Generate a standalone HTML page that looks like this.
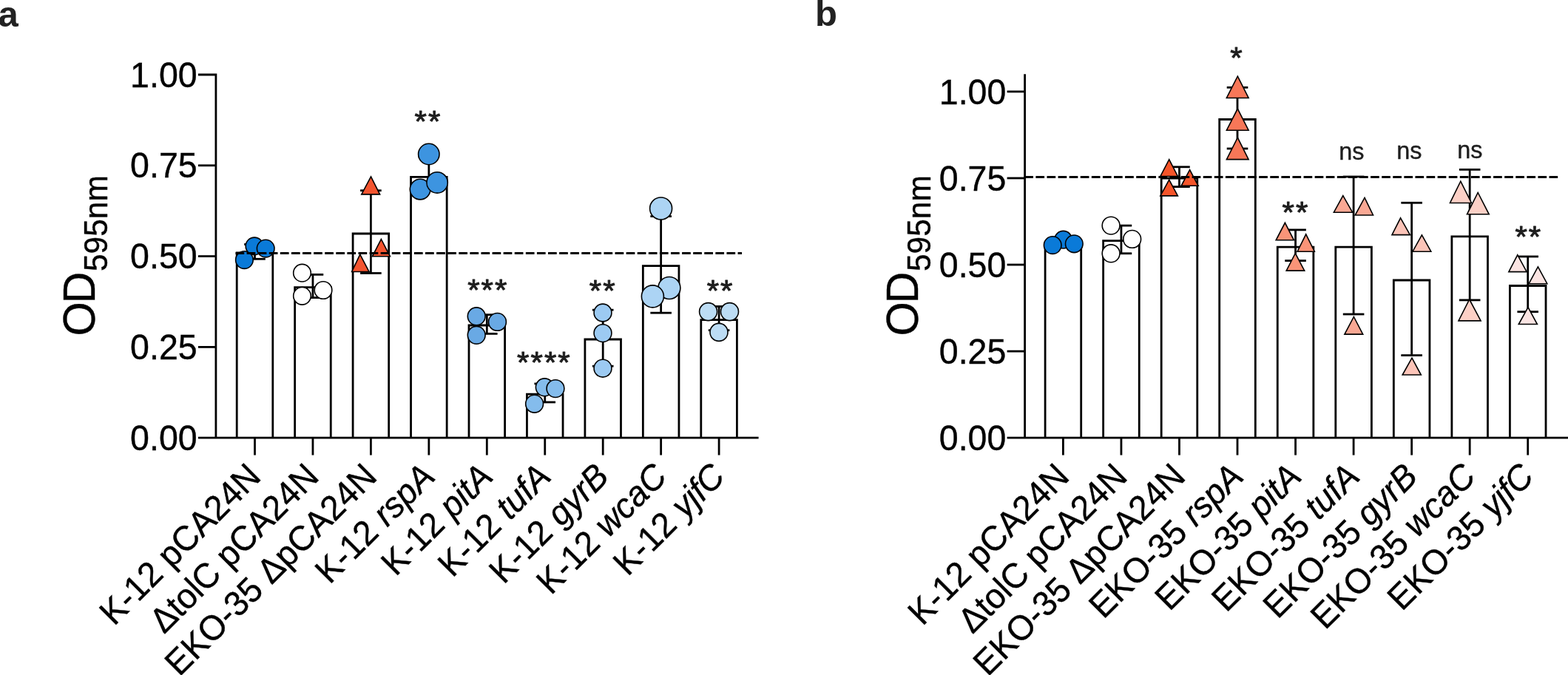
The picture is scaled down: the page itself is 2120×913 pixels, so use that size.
<!DOCTYPE html>
<html><head><meta charset="utf-8"><title>Figure</title>
<style>html,body{margin:0;padding:0;background:#fff;overflow:hidden}svg{display:block}</style>
</head><body>
<svg width="2120" height="913" viewBox="0 0 2120 913" font-family='"Liberation Sans", Arial, Helvetica, sans-serif'>
<rect width="2120" height="913" fill="#fff"/>
<text x="-2.5" y="36" font-size="49" font-weight="bold" fill="#222">a</text>
<text x="1102" y="35" font-size="49" font-weight="bold" fill="#222">b</text>
<g>
<path d="M320.20,592.20 V342.00 H368.80 V592.20" fill="none" stroke="#000" stroke-width="2.8" stroke-linejoin="miter"/>
<path d="M398.65,592.20 V388.60 H447.25 V592.20" fill="none" stroke="#000" stroke-width="2.8" stroke-linejoin="miter"/>
<path d="M477.10,592.20 V316.00 H525.70 V592.20" fill="none" stroke="#000" stroke-width="2.8" stroke-linejoin="miter"/>
<path d="M555.55,592.20 V239.30 H604.15 V592.20" fill="none" stroke="#000" stroke-width="2.8" stroke-linejoin="miter"/>
<path d="M634.00,592.20 V440.00 H682.60 V592.20" fill="none" stroke="#000" stroke-width="2.8" stroke-linejoin="miter"/>
<path d="M712.45,592.20 V533.20 H761.05 V592.20" fill="none" stroke="#000" stroke-width="2.8" stroke-linejoin="miter"/>
<path d="M790.90,592.20 V459.00 H839.50 V592.20" fill="none" stroke="#000" stroke-width="2.8" stroke-linejoin="miter"/>
<path d="M869.35,592.20 V359.60 H917.95 V592.20" fill="none" stroke="#000" stroke-width="2.8" stroke-linejoin="miter"/>
<path d="M947.80,592.20 V432.60 H996.40 V592.20" fill="none" stroke="#000" stroke-width="2.8" stroke-linejoin="miter"/>
<line x1="344.50" y1="330.50" x2="344.50" y2="350.30" stroke="#000" stroke-width="2.8" />
<line x1="330.20" y1="330.50" x2="358.80" y2="330.50" stroke="#000" stroke-width="2.8" />
<line x1="330.20" y1="350.30" x2="358.80" y2="350.30" stroke="#000" stroke-width="2.8" />
<line x1="422.95" y1="371.40" x2="422.95" y2="402.60" stroke="#000" stroke-width="2.8" />
<line x1="408.65" y1="371.40" x2="437.25" y2="371.40" stroke="#000" stroke-width="2.8" />
<line x1="408.65" y1="402.60" x2="437.25" y2="402.60" stroke="#000" stroke-width="2.8" />
<line x1="501.40" y1="257.70" x2="501.40" y2="369.50" stroke="#000" stroke-width="2.8" />
<line x1="487.10" y1="257.70" x2="515.70" y2="257.70" stroke="#000" stroke-width="2.8" />
<line x1="487.10" y1="369.50" x2="515.70" y2="369.50" stroke="#000" stroke-width="2.8" />
<line x1="579.85" y1="212.00" x2="579.85" y2="252.00" stroke="#000" stroke-width="2.8" />
<line x1="565.55" y1="212.00" x2="594.15" y2="212.00" stroke="#000" stroke-width="2.8" />
<line x1="565.55" y1="252.00" x2="594.15" y2="252.00" stroke="#000" stroke-width="2.8" />
<line x1="658.30" y1="425.70" x2="658.30" y2="451.40" stroke="#000" stroke-width="2.8" />
<line x1="644.00" y1="425.70" x2="672.60" y2="425.70" stroke="#000" stroke-width="2.8" />
<line x1="644.00" y1="451.40" x2="672.60" y2="451.40" stroke="#000" stroke-width="2.8" />
<line x1="736.75" y1="519.00" x2="736.75" y2="544.00" stroke="#000" stroke-width="2.8" />
<line x1="722.45" y1="519.00" x2="751.05" y2="519.00" stroke="#000" stroke-width="2.8" />
<line x1="722.45" y1="544.00" x2="751.05" y2="544.00" stroke="#000" stroke-width="2.8" />
<line x1="815.20" y1="419.20" x2="815.20" y2="495.20" stroke="#000" stroke-width="2.8" />
<line x1="800.90" y1="419.20" x2="829.50" y2="419.20" stroke="#000" stroke-width="2.8" />
<line x1="800.90" y1="495.20" x2="829.50" y2="495.20" stroke="#000" stroke-width="2.8" />
<line x1="893.65" y1="292.60" x2="893.65" y2="423.20" stroke="#000" stroke-width="2.8" />
<line x1="879.35" y1="292.60" x2="907.95" y2="292.60" stroke="#000" stroke-width="2.8" />
<line x1="879.35" y1="423.20" x2="907.95" y2="423.20" stroke="#000" stroke-width="2.8" />
<line x1="972.10" y1="414.50" x2="972.10" y2="446.70" stroke="#000" stroke-width="2.8" />
<line x1="957.80" y1="414.50" x2="986.40" y2="414.50" stroke="#000" stroke-width="2.8" />
<line x1="957.80" y1="446.70" x2="986.40" y2="446.70" stroke="#000" stroke-width="2.8" />
<circle cx="330.40" cy="351.60" r="11.80" fill="#0a7ad8" stroke="#000" stroke-width="1.6"/>
<circle cx="344.00" cy="332.90" r="11.80" fill="#0a7ad8" stroke="#000" stroke-width="1.6"/>
<circle cx="359.20" cy="336.10" r="11.80" fill="#0a7ad8" stroke="#000" stroke-width="1.6"/>
<circle cx="408.50" cy="369.20" r="11.80" fill="#fff" stroke="#000" stroke-width="1.6"/>
<circle cx="408.50" cy="400.30" r="11.80" fill="#fff" stroke="#000" stroke-width="1.6"/>
<circle cx="437.00" cy="392.50" r="11.80" fill="#fff" stroke="#000" stroke-width="1.6"/>
<polygon points="501.50,238.90 513.60,262.90 488.80,262.90" fill="#f35530" stroke="#000" stroke-width="1.6" stroke-linejoin="miter"/>
<polygon points="486.80,344.10 499.00,367.50 475.70,367.50" fill="#f35530" stroke="#000" stroke-width="1.6" stroke-linejoin="miter"/>
<polygon points="515.40,323.50 527.40,346.80 503.40,346.80" fill="#f35530" stroke="#000" stroke-width="1.6" stroke-linejoin="miter"/>
<circle cx="579.80" cy="208.50" r="14.20" fill="#3d94e0" stroke="#000" stroke-width="1.6"/>
<circle cx="568.10" cy="256.10" r="13.80" fill="#3d94e0" stroke="#000" stroke-width="1.6"/>
<circle cx="591.10" cy="246.90" r="14.20" fill="#3d94e0" stroke="#000" stroke-width="1.6"/>
<circle cx="644.20" cy="427.80" r="11.90" fill="#69a9e4" stroke="#000" stroke-width="1.6"/>
<circle cx="644.20" cy="453.30" r="11.90" fill="#69a9e4" stroke="#000" stroke-width="1.6"/>
<circle cx="672.50" cy="435.40" r="11.90" fill="#69a9e4" stroke="#000" stroke-width="1.6"/>
<circle cx="736.30" cy="523.80" r="11.90" fill="#84bcec" stroke="#000" stroke-width="1.6"/>
<circle cx="722.60" cy="546.20" r="11.90" fill="#84bcec" stroke="#000" stroke-width="1.6"/>
<circle cx="751.00" cy="525.60" r="11.90" fill="#84bcec" stroke="#000" stroke-width="1.6"/>
<circle cx="815.00" cy="423.00" r="11.90" fill="#9ccaf2" stroke="#000" stroke-width="1.6"/>
<circle cx="815.00" cy="450.60" r="11.90" fill="#9ccaf2" stroke="#000" stroke-width="1.6"/>
<circle cx="815.00" cy="498.20" r="11.90" fill="#9ccaf2" stroke="#000" stroke-width="1.6"/>
<circle cx="893.60" cy="282.00" r="15.00" fill="#acd4f4" stroke="#000" stroke-width="1.6"/>
<circle cx="904.90" cy="389.50" r="15.00" fill="#acd4f4" stroke="#000" stroke-width="1.6"/>
<circle cx="882.40" cy="400.90" r="15.00" fill="#acd4f4" stroke="#000" stroke-width="1.6"/>
<circle cx="957.60" cy="421.60" r="12.00" fill="#bcdcf4" stroke="#000" stroke-width="1.6"/>
<circle cx="986.50" cy="421.60" r="12.00" fill="#bcdcf4" stroke="#000" stroke-width="1.6"/>
<circle cx="972.00" cy="449.40" r="12.00" fill="#bcdcf4" stroke="#000" stroke-width="1.6"/>
<line x1="318.5" y1="342.5" x2="1003.0" y2="342.5" stroke="#000" stroke-width="2.8" stroke-dasharray="11.7 3.39"/>
<path d="M267.90,592.20 H1025.60 M267.90,101.00 H291.90 V592.20" fill="none" stroke="#000" stroke-width="2.8" stroke-linejoin="miter"/>
<text transform="translate(266.60,117.60) scale(1,1.05)" font-size="46.5" text-anchor="end" stroke="#000" stroke-width="0.4">1.00</text>
<line x1="267.90" y1="223.80" x2="291.90" y2="223.80" stroke="#000" stroke-width="2.8" />
<text transform="translate(266.60,240.40) scale(1,1.05)" font-size="46.5" text-anchor="end" stroke="#000" stroke-width="0.4">0.75</text>
<line x1="267.90" y1="346.60" x2="291.90" y2="346.60" stroke="#000" stroke-width="2.8" />
<text transform="translate(266.60,363.20) scale(1,1.05)" font-size="46.5" text-anchor="end" stroke="#000" stroke-width="0.4">0.50</text>
<line x1="267.90" y1="469.40" x2="291.90" y2="469.40" stroke="#000" stroke-width="2.8" />
<text transform="translate(266.60,486.00) scale(1,1.05)" font-size="46.5" text-anchor="end" stroke="#000" stroke-width="0.4">0.25</text>
<text transform="translate(266.60,608.80) scale(1,1.05)" font-size="46.5" text-anchor="end" stroke="#000" stroke-width="0.4">0.00</text>
<line x1="344.50" y1="592.20" x2="344.50" y2="615.60" stroke="#000" stroke-width="2.8" />
<line x1="422.95" y1="592.20" x2="422.95" y2="615.60" stroke="#000" stroke-width="2.8" />
<line x1="501.40" y1="592.20" x2="501.40" y2="615.60" stroke="#000" stroke-width="2.8" />
<line x1="579.85" y1="592.20" x2="579.85" y2="615.60" stroke="#000" stroke-width="2.8" />
<line x1="658.30" y1="592.20" x2="658.30" y2="615.60" stroke="#000" stroke-width="2.8" />
<line x1="736.75" y1="592.20" x2="736.75" y2="615.60" stroke="#000" stroke-width="2.8" />
<line x1="815.20" y1="592.20" x2="815.20" y2="615.60" stroke="#000" stroke-width="2.8" />
<line x1="893.65" y1="592.20" x2="893.65" y2="615.60" stroke="#000" stroke-width="2.8" />
<line x1="972.10" y1="592.20" x2="972.10" y2="615.60" stroke="#000" stroke-width="2.8" />
<text transform="translate(560.50,178.35) scale(1,0.95)" font-size="42" letter-spacing="2.06" fill="#1e1e1e" stroke="#1e1e1e" stroke-width="1.0" stroke-linejoin="round">**</text>
<text transform="translate(632.15,406.40) scale(1,0.95)" font-size="42" letter-spacing="2.06" fill="#1e1e1e" stroke="#1e1e1e" stroke-width="1.0" stroke-linejoin="round">***</text>
<text transform="translate(699.10,503.95) scale(1,0.95)" font-size="42" letter-spacing="2.06" fill="#1e1e1e" stroke="#1e1e1e" stroke-width="1.0" stroke-linejoin="round">****</text>
<text transform="translate(796.75,406.50) scale(1,0.95)" font-size="42" letter-spacing="2.06" fill="#1e1e1e" stroke="#1e1e1e" stroke-width="1.0" stroke-linejoin="round">**</text>
<text transform="translate(955.65,406.90) scale(1,0.95)" font-size="42" letter-spacing="2.06" fill="#1e1e1e" stroke="#1e1e1e" stroke-width="1.0" stroke-linejoin="round">**</text>
<text transform="translate(355.00,647.00) rotate(-45) scale(1,1.03)" font-size="46" text-anchor="end" stroke="#000" stroke-width="0.4">K-12 pCA24N</text>
<text transform="translate(433.45,647.00) rotate(-45) scale(1,1.03)" font-size="46" text-anchor="end" stroke="#000" stroke-width="0.4">ΔtolC pCA24N</text>
<text transform="translate(511.90,647.00) rotate(-45) scale(1,1.03)" font-size="46" text-anchor="end" stroke="#000" stroke-width="0.4">EKO-35 ΔpCA24N</text>
<text transform="translate(590.35,647.00) rotate(-45) scale(1,1.03)" font-size="46" text-anchor="end" stroke="#000" stroke-width="0.4">K-12 <tspan font-style="italic">rspA</tspan></text>
<text transform="translate(668.80,647.00) rotate(-45) scale(1,1.03)" font-size="46" text-anchor="end" stroke="#000" stroke-width="0.4">K-12 <tspan font-style="italic">pitA</tspan></text>
<text transform="translate(747.25,647.00) rotate(-45) scale(1,1.03)" font-size="46" text-anchor="end" stroke="#000" stroke-width="0.4">K-12 <tspan font-style="italic">tufA</tspan></text>
<text transform="translate(825.70,647.00) rotate(-45) scale(1,1.03)" font-size="46" text-anchor="end" stroke="#000" stroke-width="0.4">K-12 <tspan font-style="italic">gyrB</tspan></text>
<text transform="translate(904.15,647.00) rotate(-45) scale(1,1.03)" font-size="46" text-anchor="end" stroke="#000" stroke-width="0.4">K-12 <tspan font-style="italic">wcaC</tspan></text>
<text transform="translate(982.60,647.00) rotate(-45) scale(1,1.03)" font-size="46" text-anchor="end" stroke="#000" stroke-width="0.4">K-12 <tspan font-style="italic">yjfC</tspan></text>
<text transform="translate(128.20,454.4) rotate(-90) scale(1,1.035)" font-size="59.5" stroke="#000" stroke-width="0.4">O<tspan dx="-2.4">D</tspan><tspan font-size="42.5" dx="0.5" dy="16.33">595nm</tspan></text>
</g>
<g>
<path d="M1413.10,592.20 V329.00 H1461.70 V592.20" fill="none" stroke="#000" stroke-width="2.8" stroke-linejoin="miter"/>
<path d="M1491.64,592.20 V325.60 H1540.24 V592.20" fill="none" stroke="#000" stroke-width="2.8" stroke-linejoin="miter"/>
<path d="M1570.18,592.20 V241.20 H1618.78 V592.20" fill="none" stroke="#000" stroke-width="2.8" stroke-linejoin="miter"/>
<path d="M1648.72,592.20 V161.50 H1697.32 V592.20" fill="none" stroke="#000" stroke-width="2.8" stroke-linejoin="miter"/>
<path d="M1727.26,592.20 V334.20 H1775.86 V592.20" fill="none" stroke="#000" stroke-width="2.8" stroke-linejoin="miter"/>
<path d="M1805.80,592.20 V334.20 H1854.40 V592.20" fill="none" stroke="#000" stroke-width="2.8" stroke-linejoin="miter"/>
<path d="M1884.34,592.20 V379.00 H1932.94 V592.20" fill="none" stroke="#000" stroke-width="2.8" stroke-linejoin="miter"/>
<path d="M1962.88,592.20 V319.80 H2011.48 V592.20" fill="none" stroke="#000" stroke-width="2.8" stroke-linejoin="miter"/>
<path d="M2041.42,592.20 V386.50 H2090.02 V592.20" fill="none" stroke="#000" stroke-width="2.8" stroke-linejoin="miter"/>
<line x1="1437.40" y1="323.20" x2="1437.40" y2="332.60" stroke="#000" stroke-width="2.8" />
<line x1="1423.10" y1="323.20" x2="1451.70" y2="323.20" stroke="#000" stroke-width="2.8" />
<line x1="1423.10" y1="332.60" x2="1451.70" y2="332.60" stroke="#000" stroke-width="2.8" />
<line x1="1515.94" y1="305.10" x2="1515.94" y2="342.80" stroke="#000" stroke-width="2.8" />
<line x1="1501.64" y1="305.10" x2="1530.24" y2="305.10" stroke="#000" stroke-width="2.8" />
<line x1="1501.64" y1="342.80" x2="1530.24" y2="342.80" stroke="#000" stroke-width="2.8" />
<line x1="1594.48" y1="225.80" x2="1594.48" y2="252.60" stroke="#000" stroke-width="2.8" />
<line x1="1580.18" y1="225.80" x2="1608.78" y2="225.80" stroke="#000" stroke-width="2.8" />
<line x1="1580.18" y1="252.60" x2="1608.78" y2="252.60" stroke="#000" stroke-width="2.8" />
<line x1="1673.02" y1="118.30" x2="1673.02" y2="201.00" stroke="#000" stroke-width="2.8" />
<line x1="1658.72" y1="118.30" x2="1687.32" y2="118.30" stroke="#000" stroke-width="2.8" />
<line x1="1658.72" y1="201.00" x2="1687.32" y2="201.00" stroke="#000" stroke-width="2.8" />
<line x1="1751.56" y1="310.90" x2="1751.56" y2="352.60" stroke="#000" stroke-width="2.8" />
<line x1="1737.26" y1="310.90" x2="1765.86" y2="310.90" stroke="#000" stroke-width="2.8" />
<line x1="1737.26" y1="352.60" x2="1765.86" y2="352.60" stroke="#000" stroke-width="2.8" />
<line x1="1830.10" y1="239.00" x2="1830.10" y2="425.00" stroke="#000" stroke-width="2.8" />
<line x1="1815.80" y1="239.00" x2="1844.40" y2="239.00" stroke="#000" stroke-width="2.8" />
<line x1="1815.80" y1="425.00" x2="1844.40" y2="425.00" stroke="#000" stroke-width="2.8" />
<line x1="1908.64" y1="274.30" x2="1908.64" y2="480.60" stroke="#000" stroke-width="2.8" />
<line x1="1894.34" y1="274.30" x2="1922.94" y2="274.30" stroke="#000" stroke-width="2.8" />
<line x1="1894.34" y1="480.60" x2="1922.94" y2="480.60" stroke="#000" stroke-width="2.8" />
<line x1="1987.18" y1="229.40" x2="1987.18" y2="405.90" stroke="#000" stroke-width="2.8" />
<line x1="1972.88" y1="229.40" x2="2001.48" y2="229.40" stroke="#000" stroke-width="2.8" />
<line x1="1972.88" y1="405.90" x2="2001.48" y2="405.90" stroke="#000" stroke-width="2.8" />
<line x1="2065.72" y1="347.00" x2="2065.72" y2="421.70" stroke="#000" stroke-width="2.8" />
<line x1="2051.42" y1="347.00" x2="2080.02" y2="347.00" stroke="#000" stroke-width="2.8" />
<line x1="2051.42" y1="421.70" x2="2080.02" y2="421.70" stroke="#000" stroke-width="2.8" />
<circle cx="1437.60" cy="324.20" r="11.80" fill="#0a7ad8" stroke="#000" stroke-width="1.6"/>
<circle cx="1423.20" cy="331.60" r="11.80" fill="#0a7ad8" stroke="#000" stroke-width="1.6"/>
<circle cx="1452.30" cy="329.80" r="11.80" fill="#0a7ad8" stroke="#000" stroke-width="1.6"/>
<circle cx="1502.10" cy="305.10" r="11.90" fill="#fff" stroke="#000" stroke-width="1.6"/>
<circle cx="1502.10" cy="342.80" r="11.90" fill="#fff" stroke="#000" stroke-width="1.6"/>
<circle cx="1530.70" cy="323.40" r="11.90" fill="#fff" stroke="#000" stroke-width="1.6"/>
<polygon points="1580.70,215.70 1592.40,238.50 1568.90,238.50" fill="#f5552a" stroke="#000" stroke-width="1.6" stroke-linejoin="miter"/>
<polygon points="1580.70,243.20 1592.40,264.90 1568.90,264.90" fill="#f5552a" stroke="#000" stroke-width="1.6" stroke-linejoin="miter"/>
<polygon points="1608.60,229.60 1620.10,251.30 1597.10,251.30" fill="#f5552a" stroke="#000" stroke-width="1.6" stroke-linejoin="miter"/>
<polygon points="1673.30,103.20 1688.10,132.50 1658.40,132.50" fill="#f77758" stroke="#000" stroke-width="1.6" stroke-linejoin="miter"/>
<polygon points="1673.30,147.10 1688.10,176.20 1658.40,176.20" fill="#f77758" stroke="#000" stroke-width="1.6" stroke-linejoin="miter"/>
<polygon points="1673.30,186.20 1688.10,215.60 1658.40,215.60" fill="#f77758" stroke="#000" stroke-width="1.6" stroke-linejoin="miter"/>
<polygon points="1737.40,301.30 1749.40,324.80 1725.20,324.80" fill="#fa9478" stroke="#000" stroke-width="1.6" stroke-linejoin="miter"/>
<polygon points="1765.70,316.80 1777.30,340.20 1754.10,340.20" fill="#fa9478" stroke="#000" stroke-width="1.6" stroke-linejoin="miter"/>
<polygon points="1751.30,342.70 1763.70,366.10 1739.20,366.10" fill="#fa9478" stroke="#000" stroke-width="1.6" stroke-linejoin="miter"/>
<polygon points="1815.80,264.60 1828.60,287.20 1803.40,287.20" fill="#f9a894" stroke="#000" stroke-width="1.6" stroke-linejoin="miter"/>
<polygon points="1845.00,267.40 1856.50,291.00 1832.20,291.00" fill="#f9a894" stroke="#000" stroke-width="1.6" stroke-linejoin="miter"/>
<polygon points="1830.40,428.50 1842.70,452.10 1817.90,452.10" fill="#f9a894" stroke="#000" stroke-width="1.6" stroke-linejoin="miter"/>
<polygon points="1893.60,294.80 1906.40,317.60 1882.00,317.60" fill="#fcc4b8" stroke="#000" stroke-width="1.6" stroke-linejoin="miter"/>
<polygon points="1922.40,317.80 1934.80,340.20 1910.00,340.20" fill="#fcc4b8" stroke="#000" stroke-width="1.6" stroke-linejoin="miter"/>
<polygon points="1909.00,484.20 1921.30,507.00 1896.20,507.00" fill="#fcc4b8" stroke="#000" stroke-width="1.6" stroke-linejoin="miter"/>
<polygon points="1974.80,245.20 1989.50,274.50 1960.50,274.50" fill="#fcd0c6" stroke="#000" stroke-width="1.6" stroke-linejoin="miter"/>
<polygon points="1998.20,260.50 2013.20,289.80 1983.50,289.80" fill="#fcd0c6" stroke="#000" stroke-width="1.6" stroke-linejoin="miter"/>
<polygon points="1986.70,405.00 2002.10,433.90 1972.00,433.90" fill="#fcd0c6" stroke="#000" stroke-width="1.6" stroke-linejoin="miter"/>
<polygon points="2051.80,344.80 2064.20,367.60 2039.90,367.60" fill="#fbe4e2" stroke="#000" stroke-width="1.6" stroke-linejoin="miter"/>
<polygon points="2079.40,360.90 2091.80,383.70 2067.10,383.70" fill="#fbe4e2" stroke="#000" stroke-width="1.6" stroke-linejoin="miter"/>
<polygon points="2066.00,415.70 2078.40,438.50 2053.30,438.50" fill="#fbe4e2" stroke="#000" stroke-width="1.6" stroke-linejoin="miter"/>
<line x1="1385.3" y1="239.5" x2="2106.2" y2="239.5" stroke="#000" stroke-width="2.8" stroke-dasharray="11.7 3.39"/>
<path d="M1361.60,592.20 H2120.00 M1385.60,100.30 V592.20" fill="none" stroke="#000" stroke-width="2.8"/>
<line x1="1361.60" y1="123.90" x2="1385.60" y2="123.90" stroke="#000" stroke-width="2.8" />
<text transform="translate(1360.30,140.50) scale(1,1.05)" font-size="46.5" text-anchor="end" stroke="#000" stroke-width="0.4">1.00</text>
<line x1="1361.60" y1="240.98" x2="1385.60" y2="240.98" stroke="#000" stroke-width="2.8" />
<text transform="translate(1360.30,257.58) scale(1,1.05)" font-size="46.5" text-anchor="end" stroke="#000" stroke-width="0.4">0.75</text>
<line x1="1361.60" y1="358.05" x2="1385.60" y2="358.05" stroke="#000" stroke-width="2.8" />
<text transform="translate(1360.30,374.65) scale(1,1.05)" font-size="46.5" text-anchor="end" stroke="#000" stroke-width="0.4">0.50</text>
<line x1="1361.60" y1="475.12" x2="1385.60" y2="475.12" stroke="#000" stroke-width="2.8" />
<text transform="translate(1360.30,491.73) scale(1,1.05)" font-size="46.5" text-anchor="end" stroke="#000" stroke-width="0.4">0.25</text>
<text transform="translate(1360.30,608.80) scale(1,1.05)" font-size="46.5" text-anchor="end" stroke="#000" stroke-width="0.4">0.00</text>
<line x1="1437.40" y1="592.20" x2="1437.40" y2="615.60" stroke="#000" stroke-width="2.8" />
<line x1="1515.94" y1="592.20" x2="1515.94" y2="615.60" stroke="#000" stroke-width="2.8" />
<line x1="1594.48" y1="592.20" x2="1594.48" y2="615.60" stroke="#000" stroke-width="2.8" />
<line x1="1673.02" y1="592.20" x2="1673.02" y2="615.60" stroke="#000" stroke-width="2.8" />
<line x1="1751.56" y1="592.20" x2="1751.56" y2="615.60" stroke="#000" stroke-width="2.8" />
<line x1="1830.10" y1="592.20" x2="1830.10" y2="615.60" stroke="#000" stroke-width="2.8" />
<line x1="1908.64" y1="592.20" x2="1908.64" y2="615.60" stroke="#000" stroke-width="2.8" />
<line x1="1987.18" y1="592.20" x2="1987.18" y2="615.60" stroke="#000" stroke-width="2.8" />
<line x1="2065.72" y1="592.20" x2="2065.72" y2="615.60" stroke="#000" stroke-width="2.8" />
<text transform="translate(1663.35,91.85) scale(1,0.95)" font-size="42" letter-spacing="2.06" fill="#1e1e1e" stroke="#1e1e1e" stroke-width="1.0" stroke-linejoin="round">*</text>
<text transform="translate(1733.55,300.70) scale(1,0.95)" font-size="42" letter-spacing="2.06" fill="#1e1e1e" stroke="#1e1e1e" stroke-width="1.0" stroke-linejoin="round">**</text>
<text x="1810.20" y="215.60" font-size="32.4" fill="#1e1e1e" stroke="#1e1e1e" stroke-width="0.4">ns</text>
<text x="1888.30" y="215.45" font-size="32.4" fill="#1e1e1e" stroke="#1e1e1e" stroke-width="0.4">ns</text>
<text x="1970.25" y="214.35" font-size="32.4" fill="#1e1e1e" stroke="#1e1e1e" stroke-width="0.4">ns</text>
<text transform="translate(2048.45,334.40) scale(1,0.95)" font-size="42" letter-spacing="2.06" fill="#1e1e1e" stroke="#1e1e1e" stroke-width="1.0" stroke-linejoin="round">**</text>
<text transform="translate(1447.90,647.00) rotate(-45) scale(1,1.03)" font-size="46" text-anchor="end" stroke="#000" stroke-width="0.4">K-12 pCA24N</text>
<text transform="translate(1526.44,647.00) rotate(-45) scale(1,1.03)" font-size="46" text-anchor="end" stroke="#000" stroke-width="0.4">ΔtolC pCA24N</text>
<text transform="translate(1604.98,647.00) rotate(-45) scale(1,1.03)" font-size="46" text-anchor="end" stroke="#000" stroke-width="0.4">EKO-35 ΔpCA24N</text>
<text transform="translate(1683.52,647.00) rotate(-45) scale(1,1.03)" font-size="46" text-anchor="end" stroke="#000" stroke-width="0.4">EKO-35 <tspan font-style="italic">rspA</tspan></text>
<text transform="translate(1762.06,647.00) rotate(-45) scale(1,1.03)" font-size="46" text-anchor="end" stroke="#000" stroke-width="0.4">EKO-35 <tspan font-style="italic">pitA</tspan></text>
<text transform="translate(1840.60,647.00) rotate(-45) scale(1,1.03)" font-size="46" text-anchor="end" stroke="#000" stroke-width="0.4">EKO-35 <tspan font-style="italic">tufA</tspan></text>
<text transform="translate(1919.14,647.00) rotate(-45) scale(1,1.03)" font-size="46" text-anchor="end" stroke="#000" stroke-width="0.4">EKO-35 <tspan font-style="italic">gyrB</tspan></text>
<text transform="translate(1997.68,647.00) rotate(-45) scale(1,1.03)" font-size="46" text-anchor="end" stroke="#000" stroke-width="0.4">EKO-35 <tspan font-style="italic">wcaC</tspan></text>
<text transform="translate(2076.22,647.00) rotate(-45) scale(1,1.03)" font-size="46" text-anchor="end" stroke="#000" stroke-width="0.4">EKO-35 <tspan font-style="italic">yjfC</tspan></text>
<text transform="translate(1240.80,454.4) rotate(-90) scale(1,1.035)" font-size="59.5" stroke="#000" stroke-width="0.4">O<tspan dx="-2.4">D</tspan><tspan font-size="42.5" dx="0.5" dy="16.43">595nm</tspan></text>
</g>
</svg>
</body></html>
